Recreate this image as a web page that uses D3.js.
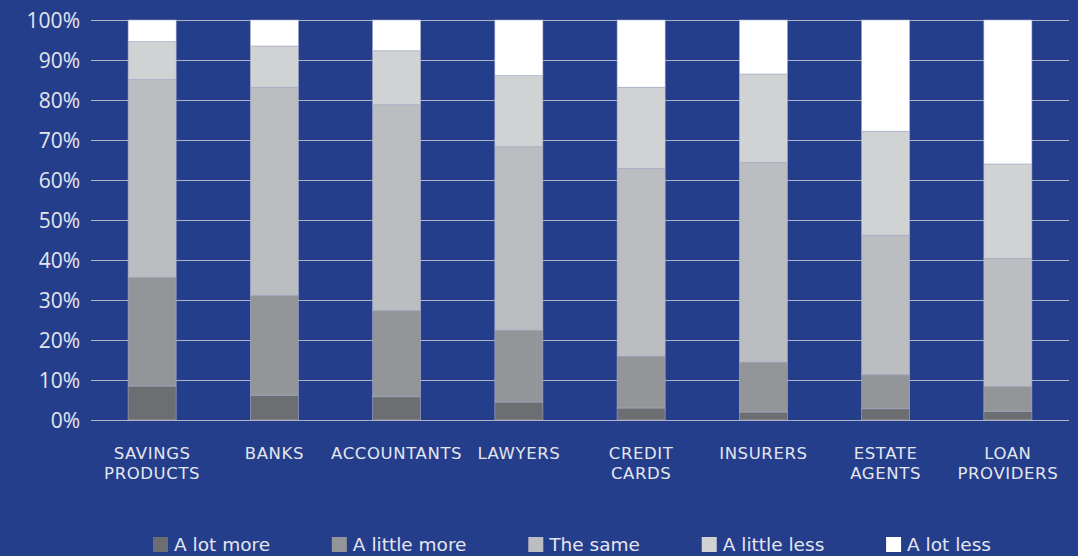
<!DOCTYPE html>
<html>
<head>
<meta charset="utf-8">
<script src="https://cdn.jsdelivr.net/npm/d3@7"></script>
<style>
  html, body { margin: 0; padding: 0; background: #243e8c; }
  svg { display: block; }
  text { fill: #e4e6ee; }
</style>
</head>
<body>
<svg id="chart" width="1078" height="556"></svg>
<script>
// Categories (multi-line labels split on "\n")
const categories = [
  "SAVINGS\nPRODUCTS", "BANKS", "ACCOUNTANTS", "LAWYERS",
  "CREDIT\nCARDS", "INSURERS", "ESTATE\nAGENTS", "LOAN\nPROVIDERS"
];

// Response series, bottom to top of each stack (percent of respondents)
const seriesNames = ["A lot more", "A little more", "The same", "A little less", "A lot less"];
const aLotMore    = [8.5, 6.2, 5.8, 4.5, 3.0, 2.0, 2.8, 2.2];
const aLittleMore = [27.2, 25.0, 21.6, 18.0, 13.0, 12.5, 8.5, 6.2];
const theSame     = [49.4, 52.0, 51.4, 45.8, 46.9, 49.9, 34.9, 32.0];
const aLittleLess = [9.5, 10.3, 13.5, 17.8, 20.3, 22.1, 26.0, 23.6];
const aLotLess    = [5.4, 6.5, 7.7, 13.9, 16.8, 13.5, 27.8, 36.0];

const yTicks = [0, 10, 20, 30, 40, 50, 60, 70, 80, 90, 100];

const seriesColors = ["#6d6e71", "#939598", "#bcbdc0", "#d1d2d4", "#ffffff"];

const svg = d3.select("#chart");
const W = 1078, H = 556;
const plot = { left: 91, right: 1069, top: 20, bottom: 420 };
const labelFont = "'DejaVu Sans', sans-serif";
const tickFont = "'Open Sans', 'Noto Sans', sans-serif";

svg.append("rect").attr("width", W).attr("height", H).attr("fill", "#243e8c");

// Table for the stack generator
const seriesValues = [aLotMore, aLittleMore, theSame, aLittleLess, aLotLess];
const rows = categories.map((c, i) => {
  const r = { category: c };
  seriesNames.forEach((s, k) => { r[s] = seriesValues[k][i]; });
  return r;
});

const stack = d3.stack().keys(seriesNames).offset(d3.stackOffsetExpand);
const stacked = stack(rows);

const x = d3.scaleBand()
  .domain(categories)
  .range([plot.left, plot.right])
  .paddingInner(0.607)
  .paddingOuter(0.3035);

const y = d3.scaleLinear().domain([0, 1]).range([plot.bottom, plot.top]);

const color = d3.scaleOrdinal().domain(seriesNames).range(seriesColors);

// Gridlines and percentage ticks
const yAxis = d3.axisLeft(y)
  .tickValues(yTicks.map(t => t / 100))
  .tickSize(-(plot.right - plot.left))
  .tickFormat(d => Math.round(d * 100) + "%");

const gy = svg.append("g")
  .attr("transform", `translate(${plot.left},0)`)
  .call(yAxis);
gy.select(".domain").remove();
gy.selectAll(".tick line")
  .attr("stroke", "#aeb2c6")
  .attr("stroke-width", 1.2);
gy.selectAll(".tick text")
  .attr("x", -11)
  .attr("dy", "0.36em")
  .style("font-family", tickFont)
  .style("font-size", "21px")
  .attr("fill", "#e4e6ee");

// Stacked bars
svg.append("g")
  .selectAll("g")
  .data(stacked)
  .join("g")
  .attr("fill", d => color(d.key))
  .selectAll("rect")
  .data(d => d)
  .join("rect")
  .attr("x", d => x(d.data.category))
  .attr("width", x.bandwidth())
  .attr("y", d => y(d[1]))
  .attr("height", d => y(d[0]) - y(d[1]))
  .attr("stroke", "#a7adc5")
  .attr("stroke-width", 0.6);

// Category labels, one text element per line
const xl = svg.append("g");
categories.forEach(c => {
  c.split("\n").forEach((ln, i) => {
    xl.append("text")
      .attr("text-anchor", "middle")
      .attr("x", x(c) + x.bandwidth() / 2)
      .attr("y", 459 + i * 20)
      .style("font-family", labelFont)
      .style("font-size", "16.5px")
      .style("letter-spacing", "0.6px")
      .text(ln);
  });
});

// Legend
const legend = svg.append("g");
const items = seriesNames.map(name => {
  const g = legend.append("g");
  g.append("rect")
    .attr("width", 15).attr("height", 15)
    .attr("y", 537)
    .attr("fill", color(name));
  const t = g.append("text")
    .attr("x", 21)
    .attr("y", 551)
    .style("font-family", labelFont)
    .style("font-size", "18.5px")
    .text(name);
  return { g, w: 21 + t.node().getComputedTextLength() };
});
const legendStart = 153, legendEnd = 991;
const natural = d3.sum(items, d => d.w);
const gap = (legendEnd - legendStart - natural) / (items.length - 1);
let cx = legendStart;
items.forEach(it => {
  it.g.attr("transform", `translate(${cx},0)`);
  cx += it.w + gap;
});
</script>
</body>
</html>
